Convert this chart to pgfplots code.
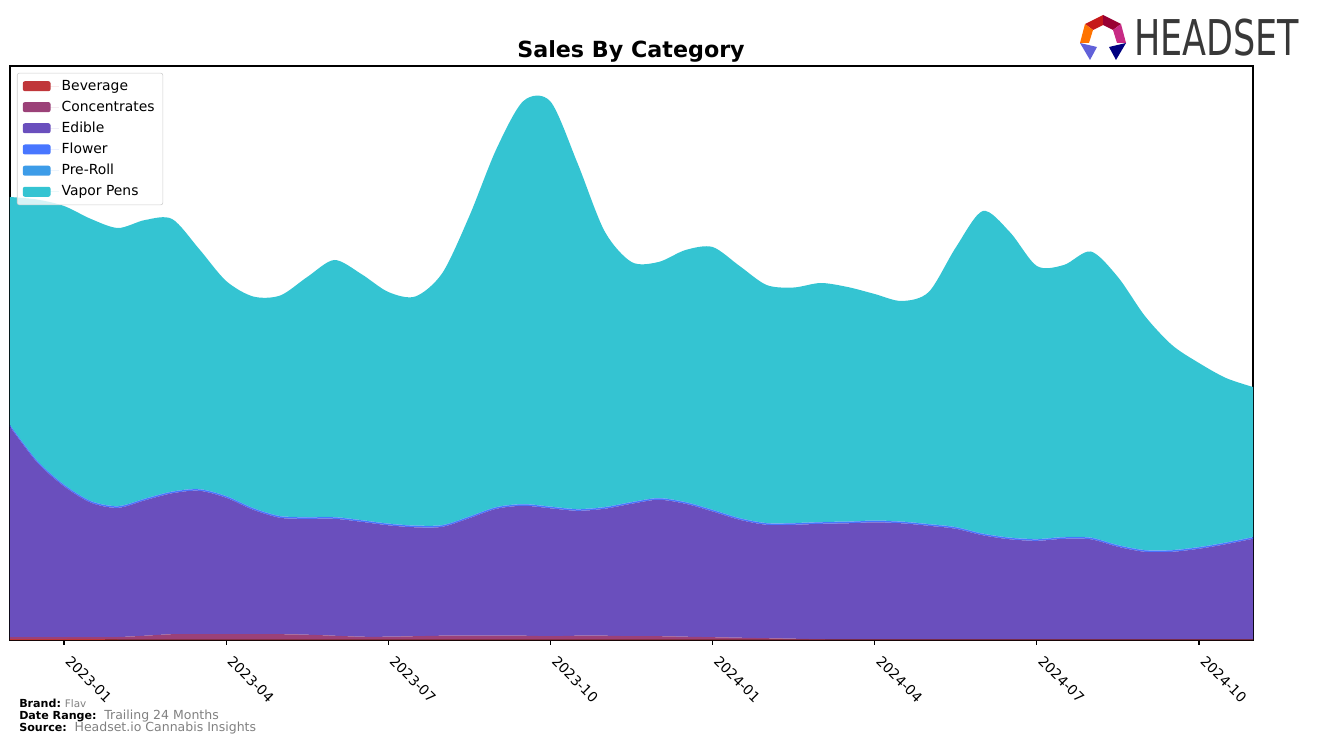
\documentclass[border=0pt]{standalone}
\usepackage{fontspec}
\setmainfont{DejaVu Sans}
\usepackage{pgfplots}
\pgfplotsset{compat=1.18}
\usepackage{pgfplotstable}
\definecolor{cbev}{RGB}{192,54,58}
\definecolor{cconc}{RGB}{155,65,120}
\definecolor{cedi}{RGB}{106,79,189}
\definecolor{cflo}{RGB}{72,118,255}
\definecolor{cpre}{RGB}{61,156,232}
\definecolor{cvap}{RGB}{52,196,210}
\definecolor{footgray}{RGB}{128,128,128}

\pgfplotstableread{
x    bev  conc edible flower pre vapor
0    1    2    210.2  1.5  0.3  228
0.5  1    2    174.7  1.5  0.3  261
1    1    2    150.7  1.5  0.3  278.5
1.5  1    2    134.2  1.5  0.3  282
2    0.5  2.5  129.2  1.5  0.3  278
2.5  0.3  4    135.4  1.5  0.3  278.5
3    0.3  5.5  140.9  1.5  0.3  272.5
3.5  0.3  5.5  143.4  1.5  0.3  240
4    0.3  5.5  136.4  1.5  0.3  215
4.5  0.3  5.5  124.4  1.5  0.3  211.5
5    0.3  5.5  116.4  1.5  0.3  220.5
5.5  0.3  5    115.9  1.5  0.3  240
6    0.3  4    116.9  1.5  0.3  257
6.5  0.3  3    114.9  1.5  0.3  246
7    0.3  3    111.4  1.5  0.3  231.5
7.5  0.3  3.5  108.9  1.5  0.3  229
8    0.3  4    108.9  1.5  0.3  252
8.5  0.3  4    117.5  1.5  0.3  300.4
9    0.3  4    126.9  1.5  0.3  358
9.5  0.3  4    129.9  1.5  0.3  403
10   0.3  3.5  127.9  1.5  0.3  405
10.5 0.3  4    124.9  1.5  0.3  346
11   0.3  4    126.9  1.5  0.3  276
11.5 0.3  3.5  132.4  1.5  0.3  240
12   0.3  3.5  136.4  1.5  0.3  236
12.5 0.3  3    132.9  1.5  0.3  252
13   0.3  2.5  125.7  1.5  0.3  262.7
13.5 0.3  2    117.9  1.5  0.3  252
14   0.3  1.5  113.4  1.5  0.3  238
14.5 0.3  1    113.9  1.5  0.3  235.5
15   0.3  0.5  115.4  1.5  0.3  239
15.5 0.3  0.3  116.1  1.5  0.3  234.5
16   0.3  0.3  117.1  1.5  0.3  226.5
16.5 0.3  0.3  116.1  1.5  0.3  220.5
17   0.3  0.3  113.6  1.5  0.3  232
17.5 0.3  0.3  110.6  1.5  0.3  279.5
18   0.3  0.3  104.1  1.5  0.3  322.5
18.5 0.3  0.3  100.1  1.5  0.3  305.5
19   0.3  0.3  98.6   1.5  0.3  273
19.5 0.3  0.3  100.6  1.5  0.3  272
20   0.3  0.3  100.1  1.5  0.3  286
20.5 0.3  0.3  92.6   1.5  0.3  268
21   0.3  0.3  87.6   1.5  0.3  234
21.5 0.3  0.3  87.6   1.5  0.3  205
22   0.3  0.3  90.6   1.5  0.3  184
22.5 0.3  0.3  95.2   1.5  0.3  164.4
23   0.3  0.3  100.6  1.5  0.3  150
}\data

\begin{document}
\begin{tikzpicture}[x=0.72pt,y=0.72pt]
\path[use as bounding box] (0,0) rectangle (1317,745);
\begin{axis}[
  at={(7.2pt,75.6pt)}, anchor=south west,
  scale only axis, width=894.96pt, height=413.28pt,
  xmin=0, xmax=23, ymin=0, ymax=574,
  stack plots=y,
  axis line style={line width=0.8pt},
  ytick=\empty,
  xtick={1,4,7,10,13,16,19,22},
  xticklabels={2023-01,2023-04,2023-07,2023-10,2024-01,2024-04,2024-07,2024-10},
  xtick pos=bottom, tick align=outside,
  major tick length=3.5pt,
  every tick/.style={black, line width=0.8pt},
  xticklabel style={font=\fontsize{10}{12}\selectfont, rotate=-45, anchor=north west, inner sep=1pt, xshift=8pt},
  legend cell align=left,
  legend image code/.code={\path[#1, draw=none, fill opacity=1] (0pt,-3.6pt) rectangle (20pt,3.6pt); \path (0pt,0pt) -- (26pt,0pt);},
  legend style={at={(0.0056,0.988)}, anchor=north west, draw=black!20, rounded corners=1.5pt,
    fill=white, fill opacity=0.8, text opacity=1, font=\fontsize{10}{12}\selectfont,
    row sep=2.2pt, inner xsep=4pt, inner ysep=3pt},
]
\addplot[draw=none, fill=cbev, smooth] table[x=x, y=bev] {\data} \closedcycle;
\addlegendentry{Beverage}
\addplot[draw=none, fill=cconc, smooth] table[x=x, y=conc] {\data} \closedcycle;
\addlegendentry{Concentrates}
\addplot[draw=none, fill=cedi, smooth] table[x=x, y=edible] {\data} \closedcycle;
\addlegendentry{Edible}
\addplot[draw=none, fill=cflo, smooth] table[x=x, y=flower] {\data} \closedcycle;
\addlegendentry{Flower}
\addplot[draw=none, fill=cpre, smooth] table[x=x, y=pre] {\data} \closedcycle;
\addlegendentry{Pre-Roll}
\addplot[draw=none, fill=cvap, smooth] table[x=x, y=vapor] {\data} \closedcycle;
\addlegendentry{Vapor Pens}
\end{axis}
% title
\node[font=\bfseries\fontsize{16}{19}\selectfont] at (631,694) {Sales By Category};
% footer
\node[anchor=west, inner sep=0pt] at (19,42) {\fontsize{8}{9}\selectfont\bfseries Brand:\ \mdseries\color{footgray}\fontsize{7.5}{9}\selectfont Flav};
\node[anchor=west, inner sep=0pt] at (19,29) {\fontsize{8}{9}\selectfont\bfseries Date Range:\ \ \mdseries\color{footgray}\fontsize{9}{10}\selectfont Trailing 24 Months};
\node[anchor=west, inner sep=0pt] at (19,17) {\fontsize{8}{9}\selectfont\bfseries Source:\ \ \mdseries\color{footgray}\fontsize{9}{10}\selectfont Headset.io Cannabis Insights};
% logo
\fill[red!75!black!90] (1103,730) -- (1085,721) -- (1093,715) -- (1103,720) -- cycle;
\fill[purple!80!black] (1103,730) -- (1121,721) -- (1113,715) -- (1103,720) -- cycle;
\fill[orange!90!red] (1085,721) -- (1080,702) -- (1089,702) -- (1093,715) -- cycle;
\fill[magenta!80!black] (1121,721) -- (1126,702) -- (1117,702) -- (1113,715) -- cycle;
\fill[blue!55!white!85!black] (1080,702) -- (1097,698) -- (1090,685) -- cycle;
\fill[blue!50!black] (1126,702) -- (1109,698) -- (1116,685) -- cycle;
\node[anchor=west, inner sep=0pt, xscale=0.71, text=black!78, font=\fontsize{35.5}{40}\selectfont] at (1134,707) {HEADSET};
\end{tikzpicture}
\end{document}
